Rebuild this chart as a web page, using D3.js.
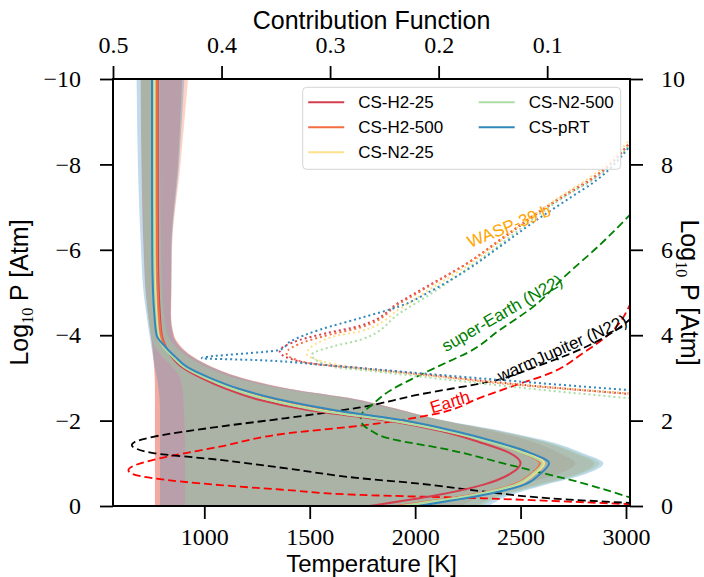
<!DOCTYPE html>
<html>
<head>
<meta charset="utf-8">
<script src="https://cdn.jsdelivr.net/npm/d3@7"></script>
<style>
  body { margin: 0; background: #fff; }
  svg { display: block; }
</style>
</head>
<body>
<div id="chart"></div>
<script>
// log10 P [atm] levels shared by the retrieved profiles
var logP = [-10, -8, -6, -5, -4.5, -4, -3.75, -3.5, -3.25, -3, -2.75, -2.5, -2.25, -2, -1.75, -1.5, -1.25, -1, -0.75, -0.5, -0.25, 0];

var models = ["CS-H2-25", "CS-H2-500", "CS-N2-25", "CS-N2-500", "CS-pRT"];
var colours = ["#d53e4f", "#f46d43", "#fee08b", "#abdda4", "#3288bd"];

// median temperature [K]
var tH2_25  = [779, 779, 780, 784, 789, 798, 815, 845, 895, 985, 1100, 1250, 1491, 1866, 2127, 2302, 2445, 2500, 2450, 2325, 2100, 1785];
var tH2_500 = [775, 775, 776, 780, 785, 795, 813, 853, 910, 1010, 1140, 1310, 1560, 1910, 2165, 2355, 2505, 2592, 2550, 2465, 2255, 1910];
var tN2_25  = [763, 763, 764, 768, 773, 782, 806, 852, 908, 1008, 1135, 1300, 1545, 1895, 2160, 2360, 2515, 2612, 2565, 2485, 2280, 1950];
var tN2_500 = [758, 758, 759, 763, 768, 778, 803, 849, 905, 1003, 1128, 1292, 1530, 1885, 2150, 2350, 2505, 2602, 2556, 2475, 2268, 1930];
var tPRT    = [752, 752, 753, 757, 763, 774, 811, 861, 920, 1026, 1160, 1349, 1612, 1950, 2190, 2385, 2543, 2635, 2592, 2518, 2315, 2010];

// lower / upper bounds [K]
var loH2_25  = [698, 702, 712, 722, 732, 746, 753, 758, 762, 765, 766, 766, 766, 766, 766, 766, 766, 766, 766, 766, 766, 766];
var hiH2_25  = [895, 875, 843, 842, 842, 856, 887, 945, 1040, 1180, 1395, 1720, 1935, 2130, 2370, 2560, 2680, 2760, 2680, 2500, 2330, 2220];
var loH2_500 = [700, 704, 714, 724, 734, 747, 754, 759, 763, 765, 766, 766, 766, 766, 766, 766, 766, 766, 766, 766, 766, 766];
var hiH2_500 = [923, 887, 847, 845, 842, 855, 886, 945, 1040, 1180, 1395, 1720, 1935, 2135, 2400, 2610, 2750, 2850, 2770, 2580, 2400, 2290];
var loN2_25  = [700, 705, 715, 724, 733, 748, 762, 800, 850, 885, 895, 900, 903, 905, 907, 909, 909, 909, 909, 909, 909, 909];
var hiN2_25  = [790, 790, 795, 800, 808, 825, 860, 920, 1010, 1140, 1360, 1680, 1910, 2125, 2390, 2620, 2765, 2870, 2785, 2600, 2420, 2310];
var loN2_500 = [701, 706, 716, 725, 734, 749, 763, 802, 852, 887, 896, 901, 904, 906, 908, 909, 909, 909, 909, 909, 909, 909];
var hiN2_500 = [792, 792, 797, 802, 810, 828, 862, 922, 1012, 1145, 1365, 1690, 1915, 2128, 2395, 2625, 2770, 2875, 2790, 2605, 2425, 2315];
var loPRT    = [679, 685, 700, 712, 725, 740, 748, 756, 765, 775, 783, 788, 790, 790, 790, 790, 790, 790, 790, 790, 790, 790];
var hiPRT    = [905, 880, 845, 843, 840, 852, 880, 940, 1035, 1175, 1390, 1715, 1930, 2140, 2420, 2645, 2790, 2893, 2810, 2620, 2450, 2350];

// WASP-39 b forward profiles (dotted)
var waspT_H2_25  = [3025, 2838, 2720, 2559, 2403, 2246, 2084, 1928, 1739, 1581, 1454, 1358, 1454, 1739, 2008, 2482, 3025];
var waspP_H2_25  = [-8.55, -7.65, -7.30, -6.78, -6.22, -5.68, -5.22, -4.78, -4.22, -4.05, -3.89, -3.62, -3.38, -3.23, -3.10, -2.85, -2.62];
var waspT_H2_500 = [3025, 2830, 2720, 2559, 2403, 2246, 2084, 1928, 1739, 1600, 1480, 1390, 1480, 1739, 2008, 2482, 3025];
var waspP_H2_500 = [-8.55, -7.65, -7.32, -6.80, -6.24, -5.68, -5.20, -4.75, -4.18, -4.02, -3.85, -3.58, -3.36, -3.22, -3.09, -2.84, -2.63];
var waspT_N2_25  = [3025, 2815, 2720, 2559, 2403, 2246, 2084, 1928, 1739, 1611, 1486, 1611, 1739, 2008, 2482, 3025];
var waspP_N2_25  = [-8.62, -7.65, -7.35, -6.80, -6.20, -5.62, -5.12, -4.62, -4.09, -3.97, -3.56, -3.33, -3.22, -3.09, -2.85, -2.63];
var waspT_N2_500 = [3025, 2845, 2720, 2559, 2403, 2246, 2084, 1928, 1739, 1620, 1510, 1620, 1739, 2008, 2482, 3025];
var waspP_N2_500 = [-8.50, -7.65, -7.28, -6.72, -6.12, -5.55, -5.00, -4.52, -3.89, -3.75, -3.54, -3.25, -3.19, -3.04, -2.78, -2.52];
var waspT_PRT    = [3025, 2863, 2720, 2559, 2403, 2246, 2084, 1928, 1739, 1549, 1407, 1360, 988, 1232, 1549, 1739, 2482, 3025];
var waspP_PRT    = [-8.47, -7.64, -7.17, -6.64, -6.08, -5.53, -5.06, -4.68, -4.40, -4.13, -3.85, -3.66, -3.46, -3.42, -3.31, -3.23, -2.92, -2.71];

// reference profiles (dashed)
var earthT = [3025, 2925, 2796, 2640, 2482, 2322, 2071, 1739, 1391, 1074, 758, 660, 640, 660, 758, 1074, 1391, 1739, 2322, 2640, 3025];
var earthP = [-4.78, -4.05, -3.58, -3.11, -2.84, -2.56, -2.13, -1.88, -1.70, -1.39, -1.08, -0.93, -0.84, -0.75, -0.65, -0.49, -0.375, -0.26, -0.18, -0.12, -0.04];
var warmJupT = [3025, 2956, 2798, 2577, 2387, 2008, 1739, 1391, 1074, 758, 670, 656, 670, 758, 1074, 1391, 1739, 2008, 2323, 2640, 3025];
var warmJupP = [-4.40, -4.13, -3.70, -3.27, -2.95, -2.60, -2.31, -2.06, -1.86, -1.62, -1.50, -1.43, -1.36, -1.24, -1.08, -0.88, -0.65, -0.53, -0.34, -0.18, -0.07];
var superEarthT = [3025, 2877, 2719, 2561, 2403, 2245, 2166, 2008, 1880, 1786, 1750, 1742, 1750, 1786, 1849, 2166, 2482, 2798, 3025];
var superEarthP = [-6.85, -6.12, -5.42, -4.67, -4.13, -3.58, -3.40, -3.03, -2.70, -2.33, -2.18, -2.06, -1.92, -1.78, -1.62, -1.31, -0.92, -0.53, -0.19];

var tempTicks = [1000, 1500, 2000, 2500, 3000];
var cfTicks = [0.5, 0.4, 0.3, 0.2, 0.1];
var pTicks = [-10, -8, -6, -4, -2, 0];
var pTicksRight = [10, 8, 6, 4, 2, 0];

var width = 704, height = 577;
var margins = { top: 79, right: 74, bottom: 71, left: 113 };
var chart_width = width - margins.left - margins.right;
var chart_height = height - margins.top - margins.bottom;
var serif = "'Liberation Serif', 'DejaVu Serif', serif";
var sans = "'Liberation Sans', Arial, sans-serif";

var profiles = [tH2_25, tH2_500, tN2_25, tN2_500, tPRT];
var lows = [loH2_25, loH2_500, loN2_25, loN2_500, loPRT];
var highs = [hiH2_25, hiH2_500, hiN2_25, hiN2_500, hiPRT];
var waspT = [waspT_H2_25, waspT_H2_500, waspT_N2_25, waspT_N2_500, waspT_PRT];
var waspP = [waspP_H2_25, waspP_H2_500, waspP_N2_25, waspP_N2_500, waspP_PRT];

var refs = [
  { t: earthT, p: earthP, colour: "#ff0000" },
  { t: warmJupT, p: warmJupP, colour: "#000000" },
  { t: superEarthT, p: superEarthP, colour: "#008000" }
];

// text placed in data units: T, log P, rotation
var notes = [
  { text: "WASP-39 b", t: 2445, p: -6.56, rot: -22, colour: "#ffa500" },
  { text: "super-Earth (N22)", t: 2412, p: -4.52, rot: -30, colour: "#008000" },
  { text: "warmJupiter (N22)", t: 2697, p: -3.70, rot: -24, colour: "#000000" },
  { text: "Earth", t: 2165, p: -2.44, rot: -17, colour: "#ff0000" }
];

var scaleX = d3.scaleLinear().domain([567, 3019]).range([0, chart_width]);
var scaleY = d3.scaleLinear().domain([-10, 0]).range([0, chart_height]);
var scaleTop = d3.scaleLinear().domain([0.5, 0.0237]).range([0, chart_width]);
var scaleRight = d3.scaleLinear().domain([10, 0]).range([0, chart_height]);

var svg = d3.select("#chart").append("svg")
  .attr("width", width)
  .attr("height", height)
  .attr("xmlns", "http://www.w3.org/2000/svg");

svg.append("defs").append("clipPath").attr("id", "clip")
  .append("rect").attr("width", chart_width).attr("height", chart_height);

var chart_area = svg.append("g")
  .attr("transform", "translate(" + margins.left + "," + margins.top + ")");
var plot = chart_area.append("g").attr("clip-path", "url(#clip)");

function pairs(ts, ps) {
  return ts.map(function (t, i) { return { t: t, p: ps[i] }; });
}

var line = d3.line()
  .x(function (d) { return scaleX(d.t); })
  .y(function (d) { return scaleY(d.p); })
  .curve(d3.curveMonotoneY);

var band = d3.area()
  .y(function (d) { return scaleY(d.p); })
  .x0(function (d) { return scaleX(d.lo); })
  .x1(function (d) { return scaleX(d.hi); })
  .curve(d3.curveMonotoneY);

// shaded ranges
models.forEach(function (m, i) {
  var rows = logP.map(function (p, j) { return { p: p, lo: lows[i][j], hi: highs[i][j] }; });
  plot.append("path")
    .attr("d", band(rows))
    .attr("fill", colours[i])
    .attr("fill-opacity", 0.3);
});

// reference planets
refs.forEach(function (r) {
  plot.append("path")
    .attr("d", line(pairs(r.t, r.p)))
    .attr("fill", "none")
    .attr("stroke", r.colour)
    .attr("stroke-width", 1.8)
    .attr("stroke-dasharray", "8,4");
});

// WASP-39 b
models.forEach(function (m, i) {
  plot.append("path")
    .attr("d", line(pairs(waspT[i], waspP[i])))
    .attr("fill", "none")
    .attr("stroke", colours[i])
    .attr("stroke-width", 2)
    .attr("stroke-dasharray", "2,3");
});

// retrieved medians
models.forEach(function (m, i) {
  plot.append("path")
    .attr("d", line(pairs(profiles[i], logP)))
    .attr("fill", "none")
    .attr("stroke", colours[i])
    .attr("stroke-width", 2);
});

notes.forEach(function (n) {
  chart_area.append("text")
    .attr("transform", "translate(" + scaleX(n.t) + "," + scaleY(n.p) + ") rotate(" + n.rot + ")")
    .attr("text-anchor", "middle")
    .attr("dy", "0.35em")
    .attr("font-family", sans)
    .attr("font-size", 17)
    .attr("fill", n.colour)
    .text(n.text);
});

// axes
function styleAxis(g) {
  g.select(".domain").remove();
  g.selectAll(".tick line").attr("stroke", "#000").attr("stroke-width", 1.8);
  g.selectAll(".tick text").attr("fill", "#000");
  g.attr("font-family", serif).attr("font-size", 24);
}

chart_area.append("g")
  .attr("transform", "translate(0," + chart_height + ")")
  .call(d3.axisBottom(scaleX).tickValues(tempTicks).tickSize(13).tickPadding(9).tickFormat(d3.format("d")))
  .call(styleAxis);

chart_area.append("g")
  .call(d3.axisTop(scaleTop).tickValues(cfTicks).tickSize(13).tickPadding(13).tickFormat(d3.format(".1f")))
  .call(styleAxis);

chart_area.append("g")
  .call(d3.axisLeft(scaleY).tickValues(pTicks).tickSize(13).tickPadding(19).tickFormat(d3.format("d")))
  .call(styleAxis);

chart_area.append("g")
  .attr("transform", "translate(" + chart_width + ",0)")
  .call(d3.axisRight(scaleRight).tickValues(pTicksRight).tickSize(13).tickPadding(18).tickFormat(d3.format("d")))
  .call(styleAxis);

chart_area.append("rect")
  .attr("width", chart_width)
  .attr("height", chart_height)
  .attr("fill", "none")
  .attr("stroke", "#000")
  .attr("stroke-width", 2);

// legend
var legend = chart_area.append("g")
  .attr("transform", "translate(" + (302.7 - margins.left) + "," + (87.3 - margins.top) + ")");
legend.append("rect")
  .attr("width", 318)
  .attr("height", 82)
  .attr("rx", 4)
  .attr("fill", "#fff")
  .attr("fill-opacity", 0.8)
  .attr("stroke", "#d5d5d5");
var item = legend.selectAll("g.item")
  .data(models)
  .enter().append("g")
  .attr("class", "item")
  .attr("transform", function (d, i) {
    return "translate(" + (i < 3 ? 5.5 : 176) + "," + (15 + (i % 3) * 25) + ")";
  });
item.append("line")
  .attr("x1", 0).attr("x2", 36)
  .attr("stroke", function (d, i) { return colours[i]; })
  .attr("stroke-width", 2);
item.append("text")
  .attr("x", 50)
  .attr("dy", "0.35em")
  .attr("font-family", sans)
  .attr("font-size", 17)
  .text(function (d) { return d; });

// axis titles
svg.append("text")
  .attr("x", margins.left + chart_width / 2).attr("y", 29)
  .attr("text-anchor", "middle")
  .attr("font-family", sans).attr("font-size", 25)
  .text("Contribution Function");

svg.append("text")
  .attr("x", margins.left + chart_width / 2).attr("y", 572)
  .attr("text-anchor", "middle")
  .attr("font-family", sans).attr("font-size", 24)
  .text("Temperature [K]");

function pLabel(sel) {
  sel.attr("text-anchor", "middle").attr("font-family", sans).attr("font-size", 25);
  sel.append("tspan").text("Log");
  sel.append("tspan").attr("font-family", serif).attr("font-size", 16).attr("dy", 5).text("10");
  sel.append("tspan").attr("dy", -5).text(" P [Atm]");
}

svg.append("text")
  .attr("transform", "translate(28," + (margins.top + chart_height / 2) + ") rotate(-90)")
  .call(pLabel);

svg.append("text")
  .attr("transform", "translate(681," + (margins.top + chart_height / 2) + ") rotate(90)")
  .call(pLabel);
</script>
</body>
</html>
